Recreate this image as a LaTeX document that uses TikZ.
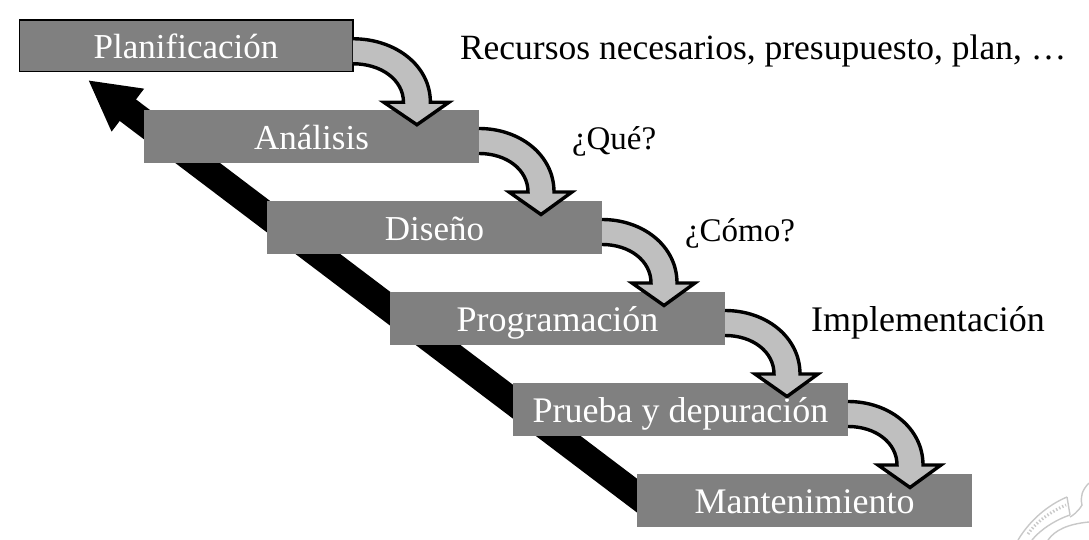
\documentclass[tikz,border=0pt]{standalone}
\usepackage{fontspec}
\setmainfont{Liberation Serif}
\usetikzlibrary{arrows.meta,calc}
\tikzset{
  x=1pt,y=-1pt,
  stage/.style={fill=stagegray,text=white,minimum width=335pt,minimum height=53pt,inner sep=0pt,outer sep=0pt,text height=30pt,text depth=4pt,font=\fontsize{36}{40}\selectfont},
  stageshort/.style={stage,font=\fontsize{35}{40}\selectfont},
  note/.style={anchor=base west,inner sep=0pt,outer sep=0pt,text=black,font=\fontsize{35.5}{40}\selectfont},
  noteshort/.style={note,font=\fontsize{33}{40}\selectfont},
  flow/.style={draw=black,fill=flowgray,line width=3.4pt,miter limit=10},
  feedback/.style={draw=black,line width=27pt,-{Triangle[length=50pt,width=50pt,fill=black]}},
  seal/.style={draw=sealgray,line width=1.4pt}
}
\definecolor{stagegray}{HTML}{808080}
\definecolor{flowgray}{HTML}{BFBFBF}
\definecolor{sealgray}{HTML}{C8C8C8}
\newcommand{\flowarrow}[2][1]{%
  \begin{scope}[shift={(#2.north east)},xscale=#1]
    \draw[flow] (0,18.5) .. controls (41,18.5) and (75,45) .. (75,82)
      -- (93,82) -- (62,104.5) -- (30,82) -- (49,82)
      .. controls (49,60) and (28,43.5) .. (0,43.5);
  \end{scope}}
\begin{document}
\begin{tikzpicture}
\useasboundingbox (0,0) rectangle (1089,540);
\coordinate (tip) at (88,80);
\coordinate (tail) at (660,513);
\draw[feedback] (tail) -- (tip);
\begin{scope}
  \clip (0,0) rectangle (1089,540);
  \draw[seal] (1018,540) .. controls (1030,520) and (1048,505) .. (1067,497);
  \draw[seal] (1032,540) .. controls (1040,530) and (1055,520) .. (1070,515);
  \draw[seal] (1067,497) -- (1070,515);
  \draw[seal] (1089,483) .. controls (1082,490) and (1080,497) .. (1082,505) .. controls (1078,512) and (1072,516) .. (1070,517);
  \draw[seal] (1048,540) .. controls (1055,530) and (1068,524) .. (1089,522);
  \draw[seal,dotted,line width=3pt] (1028,534) .. controls (1036,522) and (1050,512) .. (1066,505);
\end{scope}
\node[stageshort,draw=black,line width=1.5pt,minimum width=333.5pt,minimum height=51.5pt] (plan) at (186,46) {Planificación};
\node[stageshort] (ana) at (311.5,136.5) {Análisis};
\node[stageshort] (dis) at (434.5,227.5) {Diseño};
\node[stage] (pro) at (557.5,318.5) {Programación};
\node[stage] (pru) at (680.5,409.5) {Prueba y depuración};
\node[stage] (man) at (804.5,500.5) {Mantenimiento};
\flowarrow[1.035]{plan}
\flowarrow{ana}
\flowarrow{dis}
\flowarrow{pro}
\flowarrow{pru}
\node[note] (n1) at (460,60) {Recursos necesarios, presupuesto, plan, …};
\node[noteshort] (n2) at (572,150) {¿Qué?};
\node[noteshort] (n3) at (685,241) {¿Cómo?};
\node[note,font=\fontsize{36}{40}\selectfont] (n4) at (811,331) {Implementación};
\end{tikzpicture}
\end{document}
